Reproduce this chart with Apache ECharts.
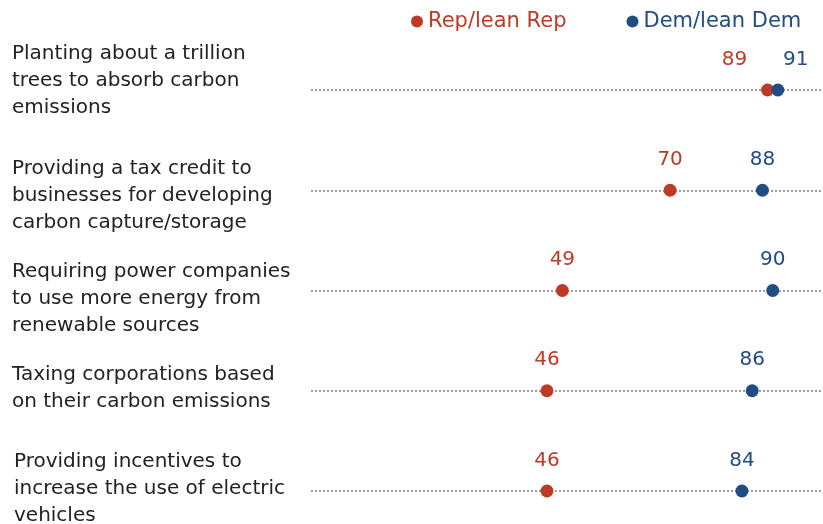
<!DOCTYPE html>
<html>
<head>
<meta charset="utf-8">
<script src="https://cdn.jsdelivr.net/npm/echarts@6/dist/echarts.min.js"></script>
<style>
html,body{margin:0;padding:0;background:#fff;}
#chart{width:823px;height:524px;}
</style>
</head>
<body>
<div id="chart"></div>
<script>
var categories = [
  "Planting about a trillion\ntrees to absorb carbon\nemissions",
  "Providing a tax credit to\nbusinesses for developing\ncarbon capture/storage",
  "Requiring power companies\nto use more energy from\nrenewable sources",
  "Taxing corporations based\non their carbon emissions",
  "Providing incentives to\nincrease the use of electric\nvehicles"
];
var repValues = [89, 70, 49, 46, 46];
var demValues = [91, 88, 90, 86, 84];
var seriesNames = ["Rep/lean Rep", "Dem/lean Dem"];

var REP = "#BE3A26", DEM = "#214C84";
var FONT = "DejaVu Sans";
// label layout tweaks (not data)
var repLabelShift = [[-33, 0], [0, 0], [0, 0], [0, 0], [0, 0]];
var demLabelShift = [[18, 0], [0, 0], [0, 0], [0, 0], [0, 0]];
var catShift = [[0, -9], [0, 6], [0, 8], [0, -2], [2, -2]];

function mk(vals, shifts) {
  return vals.map(function (v, i) {
    return { value: [v, i], label: { offset: shifts[i] } };
  });
}

var chart = echarts.init(document.getElementById('chart'));
chart.setOption({
  animation: false,
  backgroundColor: '#fff',
  legend: {
    left: 406, top: 6,
    icon: 'circle', itemWidth: 12, itemHeight: 12, itemGap: 60,
    data: [
      { name: seriesNames[0], textStyle: { color: REP } },
      { name: seriesNames[1], textStyle: { color: DEM } }
    ],
    textStyle: { fontSize: 21, fontFamily: FONT }
  },
  grid: { left: 311, right: -1, top: 90, bottom: 33, containLabel: false, outerBoundsMode: 'none' },
  xAxis: { type: 'value', min: 0, max: 100, show: false },
  yAxis: {
    type: 'category', inverse: true, boundaryGap: false,
    data: categories,
    axisLine: { show: false }, axisTick: { show: false },
    axisLabel: { show: false },
    splitLine: { show: true, lineStyle: { color: '#9c9c9c', width: 2, type: [2, 2] } }
  },
  series: [
    {
      name: 'categoryLabels', type: 'scatter', symbolSize: 1, silent: true, clip: false,
      itemStyle: { color: 'rgba(0,0,0,0)' },
      label: {
        show: true, position: 'inside', align: 'left', verticalAlign: 'middle',
        fontSize: 20, lineHeight: 27, color: '#222', fontFamily: FONT, opacity: 1,
        formatter: function (p) { return categories[p.dataIndex]; }
      },
      data: categories.map(function (c, i) {
        return { value: [0, i], label: { offset: [-299 + catShift[i][0], catShift[i][1]] } };
      })
    },
    {
      name: seriesNames[0], type: 'scatter', symbolSize: 13,
      itemStyle: { color: REP, opacity: 1 },
      label: { show: true, position: 'top', distance: 14, fontSize: 20, fontFamily: FONT, color: REP,
        formatter: function (p) { return p.value[0]; } },
      data: mk(repValues, repLabelShift)
    },
    {
      name: seriesNames[1], type: 'scatter', symbolSize: 13,
      itemStyle: { color: DEM, opacity: 1 },
      label: { show: true, position: 'top', distance: 14, fontSize: 20, fontFamily: FONT, color: DEM,
        formatter: function (p) { return p.value[0]; } },
      data: mk(demValues, demLabelShift)
    }
  ]
});
</script>
</body>
</html>
